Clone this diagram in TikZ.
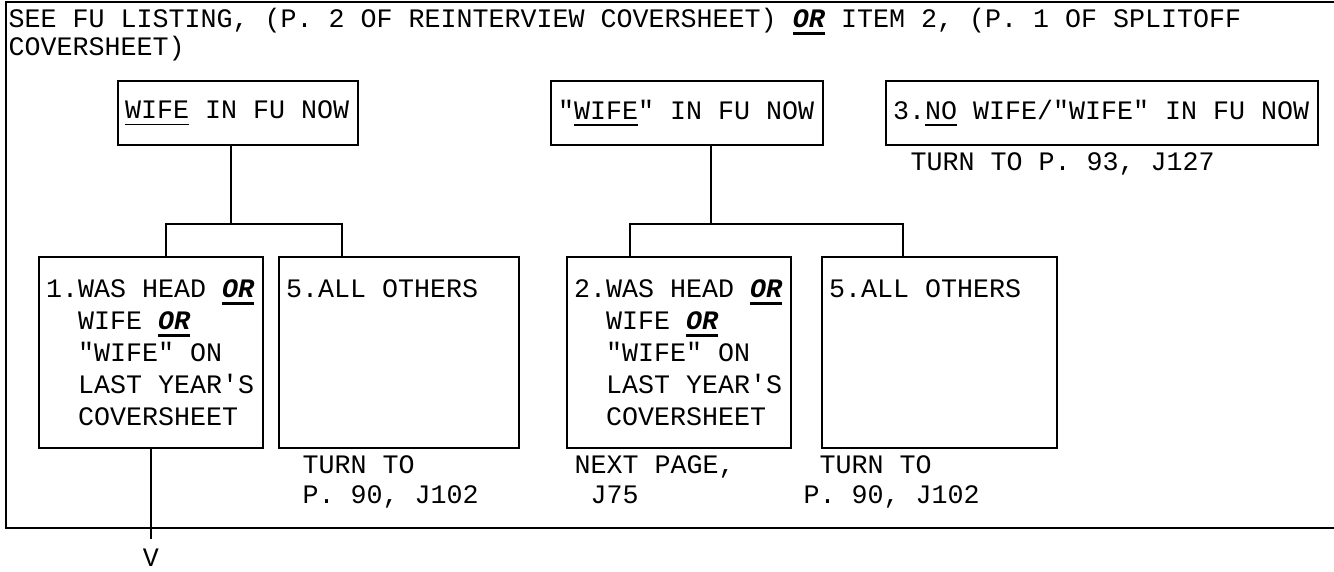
\documentclass[tikz,border=0pt]{standalone}
\usepackage{fontspec}
\setmonofont{Liberation Mono}

\newsavebox{\ulbox}
\newcommand{\undl}[3]{\sbox\ulbox{#3}\rlap{\rule[#1]{\wd\ulbox}{#2}}\usebox\ulbox}
\newcommand{\orbf}{\undl{-7.5pt}{2.5pt}{\textbf{\textit{OR}}}}
\newcommand{\ulwd}[1]{\undl{-6pt}{1.2pt}{#1}}

\begin{document}
\begin{tikzpicture}[
    x=1pt, y=-1pt,
    font=\ttfamily\fontsize{26.67}{32}\selectfont,
    line width=1.2pt,
    box/.style={draw, align=flush left, inner xsep=7, inner ysep=0},
    note/.style={align=left, inner sep=0, anchor=base west},
    link/.style={draw}
]
\useasboundingbox (0,0) rectangle (1334,571);

% Frame
\draw (1334,2) -- (6,2) -- (6,528) -- (1334,528);
\node[note, font=\ttfamily\fontsize{26.67}{27.7}\selectfont] (seefu) at (8,55)
    {SEE FU LISTING, (P. 2 OF REINTERVIEW COVERSHEET) \orbf{} ITEM 2, (P. 1 OF SPLITOFF\\COVERSHEET)};

% Top row
\node[box, text width=226, minimum height=64] (wifenow) at (238,113) {\ulwd{WIFE} IN FU NOW};
\node[box, text width=258, minimum height=64] (qwifenow) at (687,113) {"\ulwd{WIFE}" IN FU NOW};
\node[box, text width=418, minimum height=64] (nowife) at (1102,113) {3.\ulwd{NO} WIFE/"WIFE" IN FU NOW};
\node[note] (turnj127) at (910,170) {TURN TO P. 93, J127};

% Bottom row, wife
\node[box, text width=210, minimum height=191] (washead) at (151,352.5)
    {1.WAS HEAD \orbf\\~~WIFE \orbf\\~~"WIFE" ON\\~~LAST YEAR'S\\~~COVERSHEET};
\node[box, text width=226, minimum height=191] (allothers) at (399,352.5)
    {5.ALL OTHERS\\~\\~\\~\\~};
\node[note, font=\ttfamily\fontsize{26.67}{30}\selectfont] (turnj102) at (302,503) {TURN TO\\P. 90, J102};

% Bottom row, "wife"
\node[box, text width=210, minimum height=191] (washeadq) at (679,352.5)
    {2.WAS HEAD \orbf\\~~WIFE \orbf\\~~"WIFE" ON\\~~LAST YEAR'S\\~~COVERSHEET};
\node[box, text width=221, minimum height=191] (allothersq) at (939.5,352.5)
    {5.ALL OTHERS\\~\\~\\~\\~};
\node[note, font=\ttfamily\fontsize{26.67}{30}\selectfont] (nextpage) at (574,503) {NEXT PAGE,\\~J75};
\node[note, font=\ttfamily\fontsize{26.67}{30}\selectfont] (turnj102q) at (803,503) {~TURN TO\\P. 90, J102};

% Arrow head
\node[inner sep=0, anchor=base] (vhead) at (151,566) {V};

% Connectors
\coordinate (ja) at (231,224);
\coordinate (jb1) at (166,224);
\coordinate (jb5) at (342,224);
\draw[link] (wifenow.south -| ja) -- (ja);
\draw[link] (washead.north -| jb1) -- (jb1) -- (jb5) -- (allothers.north -| jb5);

\coordinate (jc) at (711,224);
\coordinate (jd1) at (630,224);
\coordinate (jd5) at (903,224);
\draw[link] (qwifenow.south -| jc) -- (jc);
\draw[link] (washeadq.north -| jd1) -- (jd1) -- (jd5) -- (allothersq.north -| jd5);

\draw[link, shorten >=9] (washead.south) -- (vhead.north);

\end{tikzpicture}
\end{document}
